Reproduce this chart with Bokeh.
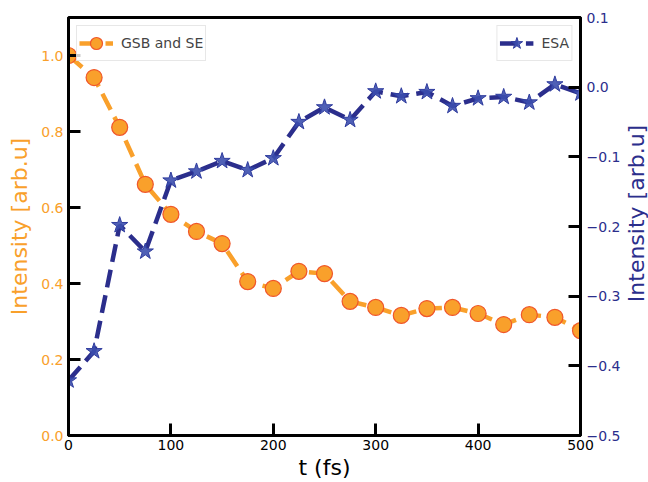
import math
from bokeh.plotting import figure
from bokeh.layouts import row
from bokeh.models import (Range1d, LinearAxis, FixedTicker, CustomJSTickFormatter,
                          Legend, LegendItem, ColumnDataSource, Label)
from bokeh.embed import file_html
from bokeh.resources import INLINE

t_fs = [0, 25, 50, 75, 100, 125, 150, 175, 200, 225, 250, 275, 300, 325, 350,
        375, 400, 425, 450, 475, 500]
gsb_se = [1.0, 0.942, 0.811, 0.661, 0.582, 0.537, 0.505, 0.405, 0.387, 0.432,
          0.426, 0.353, 0.337, 0.316, 0.334, 0.337, 0.321, 0.292, 0.318, 0.311, 0.276]
esa = [-0.421, -0.379, -0.198, -0.236, -0.134, -0.121, -0.106, -0.119, -0.102,
       -0.050, -0.029, -0.047, -0.006, -0.013, -0.007, -0.027, -0.016, -0.014,
       -0.022, 0.004, -0.009]

x_ticks = [0, 100, 200, 300, 400, 500]
left_ticks = [0.0, 0.2, 0.4, 0.6, 0.8, 1.0]
right_ticks = [-0.5, -0.4, -0.3, -0.2, -0.1, 0.0, 0.1]

ORANGE = "#F9A02B"
ORANGE_EDGE = "#F0562A"
NAVY = "#2B2E8C"
STAR_FILL = "#3C4FAE"
FONT = "DejaVu Sans"

src = ColumnDataSource(dict(t=t_fs, gsb=gsb_se, esa=esa))

p = figure(frame_width=512, frame_height=418, min_border_left=68, min_border_right=44,
           min_border_top=17, min_border_bottom=47,
           x_range=Range1d(0, 500), y_range=Range1d(0, 1.1),
           output_backend="svg", toolbar_location=None)
p.extra_y_ranges = {"esa": Range1d(-0.5, 0.1)}

p.xgrid.visible = False
p.ygrid.visible = False
p.outline_line_color = "black"
p.outline_line_width = 3
p.outline_line_alpha = 1

# GSB and SE
l1 = p.line("t", "gsb", source=src, line_color=ORANGE, line_width=4.5, line_dash="18 8")
s1 = p.scatter("t", "gsb", source=src, marker="circle", size=16,
               fill_color=ORANGE, line_color=ORANGE_EDGE, line_width=1.2)

# ESA
l2 = p.line("t", "esa", source=src, y_range_name="esa", line_color=NAVY,
            line_width=4.5, line_dash="18 8")
s2 = p.scatter("t", "esa", source=src, y_range_name="esa", marker="star", size=17,
               fill_color=STAR_FILL, line_color="#2F3C9E", line_width=1, fill_alpha=0.9)

def style_axis(ax, color, label_color):
    ax.axis_line_width = 3
    ax.axis_line_color = "black"
    ax.major_tick_in = 12
    ax.major_tick_out = 0
    ax.major_tick_line_width = 3
    ax.major_tick_line_color = "black"
    ax.minor_tick_line_color = None
    ax.major_label_text_font = FONT
    ax.major_label_text_font_size = "14px"
    ax.major_label_text_color = color
    ax.axis_label_text_font = FONT
    ax.axis_label_text_font_size = "22px"
    ax.axis_label_text_font_style = "normal"
    ax.axis_label_text_color = label_color

# bottom axis
xa = p.xaxis[0]
style_axis(xa, "black", "black")
xa.ticker = FixedTicker(ticks=x_ticks)
xa.axis_label = "t (fs)"
xa.major_label_standoff = 4
xa.axis_label_standoff = 2

# left axis
ya = p.yaxis[0]
style_axis(ya, ORANGE, ORANGE)
ya.ticker = FixedTicker(ticks=left_ticks)
ya.formatter = CustomJSTickFormatter(code="return tick.toFixed(1);")
ya.axis_label = "Intensity [arb.u]"
ya.major_label_standoff = 5
ya.axis_label_standoff = 6

# right axis
ra = LinearAxis(y_range_name="esa")
style_axis(ra, NAVY, NAVY)
ra.ticker = FixedTicker(ticks=right_ticks)
ra.formatter = CustomJSTickFormatter(code="return tick.toFixed(1).replace('-', '\\u2212');")
ra.major_label_standoff = 6
p.add_layout(ra, "right")

def make_legend(items, loc):
    lg = Legend(items=items, location=loc)
    lg.margin = 8
    lg.padding = 2
    lg.spacing = 0
    lg.glyph_width = 34
    lg.glyph_height = 30
    lg.label_standoff = 8
    lg.label_text_font = FONT
    lg.label_text_font_size = "14px"
    lg.label_height = 16
    lg.border_line_color = "#d0d0d0"
    lg.border_line_width = 1
    lg.background_fill_color = "white"
    lg.background_fill_alpha = 0.8
    return lg

p.add_layout(make_legend([LegendItem(label="GSB and SE", renderers=[l1, s1])], "top_left"))
p.add_layout(make_legend([LegendItem(label="ESA", renderers=[l2, s2])], "top_right"))

# narrow strip holding the right-hand axis title (reads bottom-to-top like the reference)
p2 = figure(width=24, height=482, x_range=Range1d(0, 1), y_range=Range1d(0, 482),
            min_border=0, x_axis_location=None, y_axis_location=None,
            output_backend="svg", toolbar_location=None)
p2.grid.visible = False
p2.outline_line_color = None
p2.add_layout(Label(x=0.5, y=256, text="Intensity [arb.u]", angle=math.pi / 2,
                    text_align="center", text_baseline="middle",
                    text_font=FONT, text_font_size="22px", text_color=NAVY))

layout = row(p, p2)
open("out.html", "w").write(file_html(layout, INLINE))
